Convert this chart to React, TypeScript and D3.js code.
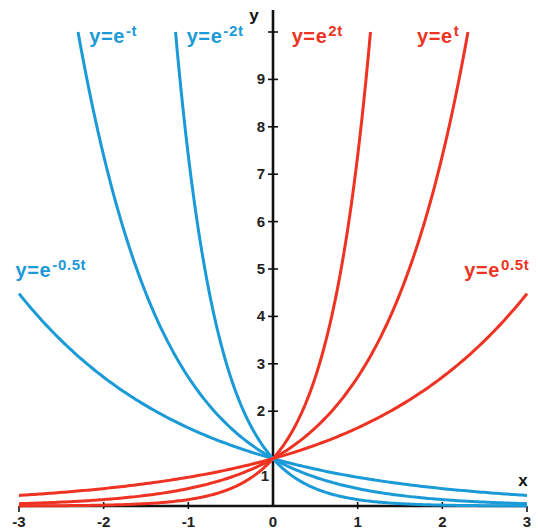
import * as d3 from 'd3';

// exponent rates k for y = e^(k t)
const redRates = [0.5, 1, 2];
const blueRates = [-0.5, -1, -2];

const xTicks = [-3, -2, -1, 0, 1, 2, 3];
const yTicks = [2, 3, 4, 5, 6, 7, 8, 9, 10];
const yTickLabels = ['2', '3', '4', '5', '6', '7', '8', '9', ''];

// curve labels: text, superscript, anchor in data units (t, y)
const labelTexts = ['y=e', 'y=e', 'y=e', 'y=e', 'y=e', 'y=e'];
const labelSups = ['-t', '-2t', '2t', 't', '-0.5t', '0.5t'];
const labelT = [-2.17, -1.02, 0.22, 1.7, -3.04, 2.26];
const labelY = [9.77, 9.77, 9.77, 9.77, 4.83, 4.83];
const labelIsRed = [false, false, true, true, false, true];

const W = 538;
const H = 529;
const RED = '#ef3323';
const BLUE = '#1b9ad8';
const FONT = '"Liberation Sans", Arial, sans-serif';

const x = d3.scaleLinear().domain([-3, 3]).range([19, 527]);
const y = d3.scaleLinear().domain([0, 10]).range([506, 32]);

const line = d3
  .line<[number, number]>()
  .x((d) => x(d[0]))
  .y((d) => y(d[1]))
  .curve(d3.curveLinear);

const curvePoints = (k: number): [number, number][] => {
  const lim = Math.log(10) / k;
  const t0 = k < 0 ? Math.max(-3, lim) : -3;
  const t1 = k > 0 ? Math.min(3, lim) : 3;
  return d3.range(0, 201).map((i) => {
    const t = t0 + ((t1 - t0) * i) / 200;
    return [t, Math.exp(k * t)];
  });
};

export default function App() {
  const x0 = x(0);
  const y0 = y(0);
  return (
    <svg
      width={W}
      height={H}
      style={{ position: 'absolute', left: 0, top: 0, background: '#fff' }}
      fontFamily={FONT}
    >
      {/* axes */}
      <line x1={x(-3)} x2={x(3)} y1={y0} y2={y0} stroke="#111" strokeWidth={2.6} />
      <line x1={x0} x2={x0} y1={10} y2={y0 + 1} stroke="#111" strokeWidth={2.6} />
      {xTicks.map((t) => {
        const end = t === -3 || t === 3;
        return (
          <g key={'xt' + t}>
            {t !== 0 && (
              <line
                x1={x(t)}
                x2={x(t)}
                y1={end ? y0 : y0 - 4}
                y2={end ? y0 + 6 : y0 + 3}
                stroke="#111"
                strokeWidth={1.6}
              />
            )}
            <text
              x={x(t)}
              y={527}
              textAnchor="middle"
              fontSize={15}
              fontWeight="bold"
              fill="#222"
            >
              {t}
            </text>
          </g>
        );
      })}
      {yTicks.map((v, i) => (
        <g key={'yt' + v}>
          <line x1={x0 - 5} x2={x0 + 5} y1={y(v)} y2={y(v)} stroke="#111" strokeWidth={1.6} />
          <text
            x={x0 - 8}
            y={y(v) + 5}
            textAnchor="end"
            fontSize={15}
            fontWeight="bold"
            fill="#222"
          >
            {yTickLabels[i]}
          </text>
        </g>
      ))}
      <text x={x0 - 4} y={y(1) + 22} textAnchor="end" fontSize={15} fontWeight="bold" fill="#222">
        1
      </text>
      <text x={523} y={486} textAnchor="middle" fontSize={17} fontWeight="bold" fill="#111">
        x
      </text>
      <text x={254} y={21} textAnchor="middle" fontSize={17} fontWeight="bold" fill="#111">
        y
      </text>

      {/* curves */}
      {blueRates.map((k) => (
        <path key={'b' + k} d={line(curvePoints(k)) || ''} fill="none" stroke={BLUE} strokeWidth={3} />
      ))}
      {redRates.map((k) => (
        <path key={'r' + k} d={line(curvePoints(k)) || ''} fill="none" stroke={RED} strokeWidth={3} />
      ))}

      {/* curve labels */}
      {labelTexts.map((s, i) => (
        <text
          key={'l' + i}
          x={x(labelT[i])}
          y={y(labelY[i])}
          fontSize={20}
          fontWeight="bold"
          letterSpacing={0.6}
          fill={labelIsRed[i] ? RED : BLUE}
        >
          {s}
          <tspan dx={1} dy={-7} fontSize={15}>
            {labelSups[i]}
          </tspan>
        </text>
      ))}
    </svg>
  );
}
